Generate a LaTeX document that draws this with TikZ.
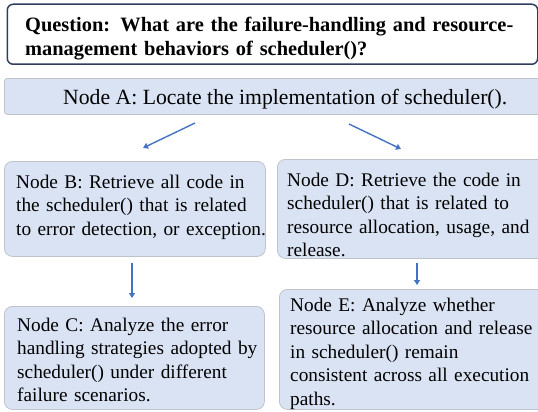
\documentclass[tikz,border=0pt]{standalone}
\usepackage{fontspec}
\setmainfont{Liberation Serif}
\usetikzlibrary{arrows.meta}
\definecolor{boxfill}{HTML}{DAE3F3}
\definecolor{boxline}{HTML}{BFC4CC}
\definecolor{qline}{HTML}{2F3D5E}
\definecolor{arrowc}{HTML}{4472C4}
\tikzset{
  stepbox/.style={draw=boxline, fill=boxfill, line width=0.8pt, rounded corners=8pt, inner sep=0pt, anchor=north west},
  qbox/.style={draw=qline, line width=1.5pt, fill=white, rounded corners=6pt, inner sep=0pt, anchor=north west},
  txt/.style={anchor=base west, inner sep=0pt, align=left, text width=320pt, font=\fontsize{19.3}{23.5}\selectfont},
  qtxt/.style={anchor=base west, inner sep=0pt, align=left, text width=520pt, font=\fontsize{20.4}{24.5}\selectfont\bfseries},
  atxt/.style={anchor=base west, inner sep=0pt, font=\fontsize{21.7}{26}\selectfont},
  flow/.style={draw=arrowc, line width=1.4pt, -{Triangle[length=5pt,width=6pt]}},
}
\begin{document}
\begin{tikzpicture}[x=1pt,y=-1pt]
\useasboundingbox (0,0) rectangle (538,412);
% boxes
\node[qbox, minimum width=530.5pt, minimum height=60pt] (Q) at (6.5,3.5) {};
\node[stepbox, rounded corners=3pt, minimum width=545pt, minimum height=36pt] (A) at (4,78) {};
\node[stepbox, minimum width=261pt, minimum height=95pt] (B) at (4,161) {};
\node[stepbox, minimum width=270pt, minimum height=99pt] (D) at (277,159) {};
\node[stepbox, minimum width=260pt, minimum height=103pt] (C) at (4,306) {};
\node[stepbox, minimum width=270pt, minimum height=120pt] (E) at (279,289) {};
% texts
\node[qtxt] (Qt) at (25,31.5) {Question: What are the failure-handling and resource-\\management behaviors of scheduler()?};
\node[atxt] (At) at (63,104) {Node A: Locate the implementation of scheduler().};
\node[txt] (Bt) at (16,188) {Node B: Retrieve all code in\\the scheduler() that is related\\to error detection, or exception.};
\node[txt] (Dt) at (287,186) {Node D: Retrieve the code in\\scheduler() that is related to\\resource allocation, usage, and\\release.};
\node[txt] (Ct) at (17,331) {Node C: Analyze the error\\handling strategies adopted by\\scheduler() under different\\failure scenarios.};
\node[txt] (Et) at (290,311) {Node E: Analyze whether\\resource allocation and release\\in scheduler() remain\\consistent across all execution\\paths.};
% connector end points
\coordinate (ab1) at (195,123);
\coordinate (ab2) at (143,148);
\coordinate (ad1) at (349,124);
\coordinate (ad2) at (401,149);
\coordinate (bc1) at (132,263);
\coordinate (bc2) at (132,298);
\coordinate (de1) at (417,263);
\coordinate (de2) at (417,285);
\draw[flow] (ab1) -- (ab2);
\draw[flow] (ad1) -- (ad2);
\draw[flow] (bc1) -- (bc2);
\draw[flow] (de1) -- (de2);
\end{tikzpicture}
\end{document}
